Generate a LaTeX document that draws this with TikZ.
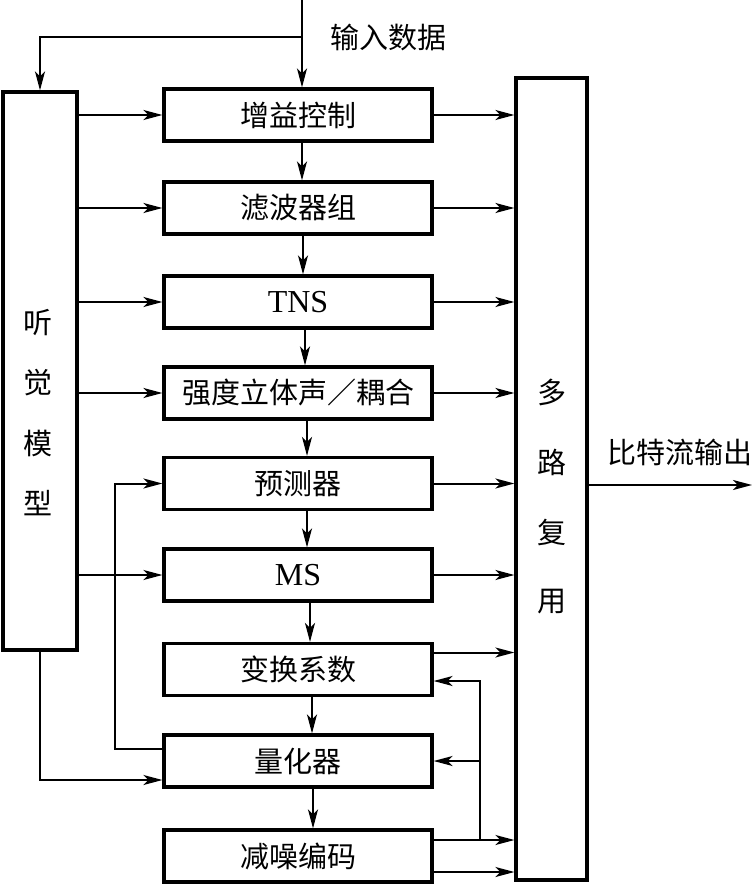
\documentclass[tikz,border=0pt]{standalone}
\usepackage{fontspec}
\setmainfont{Liberation Serif}
\newfontfamily\cjk{Noto Sans CJK SC}
\usetikzlibrary{arrows.meta}
\begin{document}
\begin{tikzpicture}[x=1pt,y=-1pt,
  box/.style={draw, line width=3.2pt, minimum width=268pt, minimum height=52pt, inner sep=0pt, font=\cjk\fontsize{29}{32}\selectfont},
  tall/.style={draw, line width=3.2pt, inner sep=0pt},
  lbl/.style={inner sep=0pt, font=\cjk\fontsize{29}{32}\selectfont},
  latin/.style={font=\rmfamily\fontsize{32}{34}\selectfont},
  conn/.style={line width=2pt, -{Stealth[length=19pt,width=10pt,inset=5pt]}}]
\useasboundingbox (0,0) rectangle (755,885);
% central boxes
\node[box] (b1) at (298,115) {增益控制};
\node[box] (b2) at (298,208) {滤波器组};
\node[box, latin] (b3) at (298,302) {TNS};
\node[box] (b4) at (298,393) {强度立体声／耦合};
\node[box] (b5) at (298,483.5) {预测器};
\node[box, latin] (b6) at (298,575) {MS};
\node[box] (b7) at (298,669.5) {变换系数};
\node[box] (b8) at (298,761) {量化器};
\node[box] (b9) at (298,856) {减噪编码};
% left and right tall boxes
\node[tall, minimum width=74pt, minimum height=558pt] (left) at (40,371) {};
\node[tall, minimum width=71pt, minimum height=802pt] (mux) at (551.5,479) {};
\node[lbl] (l1) at (38,323) {听};
\node[lbl] (l2) at (38,383) {觉};
\node[lbl] (l3) at (38,443) {模};
\node[lbl] (l4) at (38,503) {型};
\node[lbl] (m1) at (551.5,392) {多};
\node[lbl] (m2) at (551.5,462) {路};
\node[lbl] (m3) at (551.5,532) {复};
\node[lbl] (m4) at (551.5,602) {用};
\node[lbl] (inl) at (388,37) {输入数据};
\node[lbl] (outl) at (680,452) {比特流输出};
% input
\coordinate (in) at (302,0);
\coordinate (br) at (302,37);
\coordinate (out) at (752,485);
\draw[conn] (in) -- (in |- b1.north);
\draw[conn] (br) -| (left.north);
% left model to blocks
\foreach \b in {b1,b2,b3,b4,b6}
  \draw[conn] (left.east |- \b) -- (\b.west);
\draw[conn] (left.south) |- ([yshift=-19pt]b8.west);
% feedback quantizer -> predictor
\draw[conn] ([yshift=12pt]b8.west) -- ++(-47,0) |- (b5.west);
% vertical chain
\draw[conn] ([xshift=4pt]b1.south) -- ([xshift=4pt]b2.north);
\draw[conn] ([xshift=5pt]b2.south) -- ([xshift=5pt]b3.north);
\draw[conn] ([xshift=7pt]b3.south) -- ([xshift=7pt]b4.north);
\draw[conn] ([xshift=9pt]b4.south) -- ([xshift=9pt]b5.north);
\draw[conn] ([xshift=9pt]b5.south) -- ([xshift=9pt]b6.north);
\draw[conn] ([xshift=12pt]b6.south) -- ([xshift=12pt]b7.north);
\draw[conn] ([xshift=14pt]b7.south) -- ([xshift=14pt]b8.north);
\draw[conn] ([xshift=15pt]b8.south) -- ([xshift=15pt]b9.north);
% outputs to mux
\foreach \b in {b1,b2,b3,b4,b5,b6}
  \draw[conn] (\b.east) -- (\b.east -| mux.west);
\draw[conn] ([yshift=17pt]b7.east) -- ([yshift=17pt]b7.east -| mux.west);
\draw[conn] ([yshift=16pt]b9.east) -- ([yshift=16pt]b9.east -| mux.west);
\draw[conn] ([yshift=-16pt]b9.east) -- ([yshift=-16pt]b9.east -| mux.west);
% feedback from noiseless coding
\coordinate (fb) at (480,840);
\draw[conn] (fb) |- ([yshift=-11.5pt]b7.east);
\draw[conn] (fb |- b8) -- (b8.east);
% output
\draw[conn] (mux.east |- out) -- (out);
\end{tikzpicture}
\end{document}
